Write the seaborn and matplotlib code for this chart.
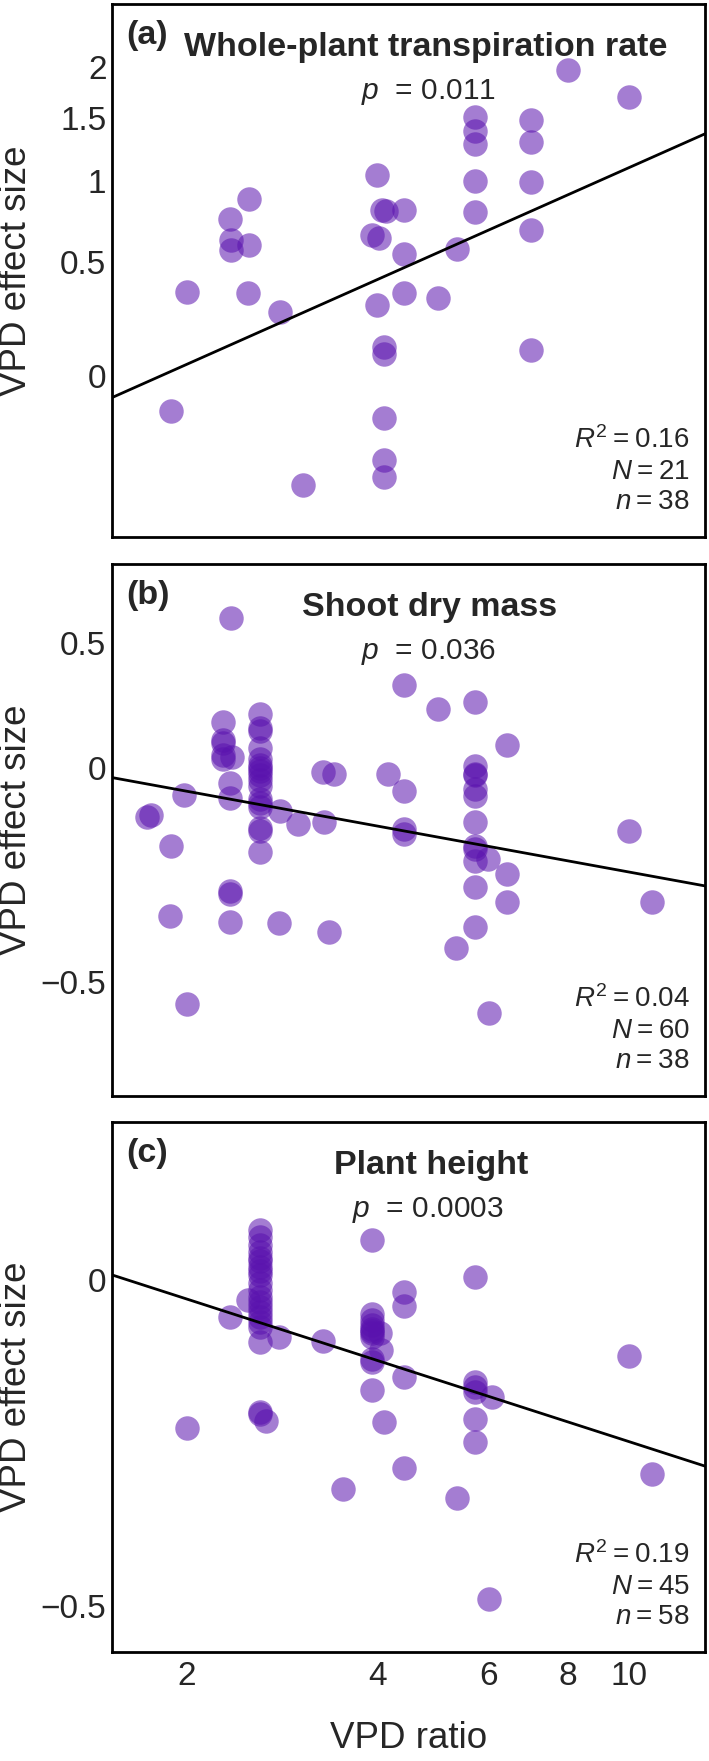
import numpy as np
import matplotlib
matplotlib.use("Agg")
import matplotlib.pyplot as plt
from matplotlib.ticker import NullLocator
import seaborn as sns

# --- DATA (y = ln response ratio, x = VPD ratio) ---
# (a) whole-plant transpiration rate
vpd_a = [1.89, 2.00, 2.34, 2.35, 2.35, 2.51, 2.51, 2.50, 2.81, 3.05,
         3.93, 4.02, 4.00, 4.00, 4.07, 4.13, 4.10, 4.10, 4.10, 4.10,
         4.10, 4.41, 4.41, 4.41, 4.99, 5.35, 5.70, 5.70, 5.70, 5.70,
         5.70, 6.99, 6.99, 6.99, 6.99, 6.99, 8.00, 10.0]
eff_a = [-0.124, 0.301, 0.559, 0.485, 0.449, 0.628, 0.465, 0.297, 0.227, -0.385,
         0.503, 0.492, 0.714, 0.255, 0.591, 0.587, 0.106, 0.080, -0.146, -0.296,
         -0.355, 0.591, 0.435, 0.297, 0.278, 0.453, 0.919, 0.871, 0.824, 0.693,
         0.583, 0.909, 0.832, 0.690, 0.518, 0.093, 1.087, 0.992]

# (b) shoot dry mass
vpd_b = [2.35, 1.73, 1.76, 1.98, 1.89, 1.88, 2.00,
         2.28, 2.28, 2.28, 2.28, 2.28, 2.36, 2.34, 2.34, 2.34, 2.34, 2.34,
         2.61, 2.61, 2.61, 2.61, 2.61, 2.61, 2.61, 2.61, 2.61, 2.61,
         2.61, 2.61, 2.61, 2.61, 2.61, 2.61, 2.61,
         2.81, 3.00, 3.28, 3.42, 3.29, 3.35, 2.80, 4.16, 4.41, 4.41,
         4.41, 4.41, 4.99, 5.70,
         5.70, 5.70, 5.70, 5.70, 5.70, 5.70, 5.70, 5.70, 5.70, 5.70, 5.70,
         6.41, 10.0, 10.86, 5.98, 6.00, 6.41, 6.41, 5.33]
eff_b = [0.487, -0.161, -0.154, -0.087, -0.254, -0.481, -0.767,
         0.148, 0.090, 0.080, 0.040, 0.030, 0.035, -0.049, -0.097, -0.400, -0.410, -0.501,
         0.175, 0.128, 0.118, 0.064, 0.030, 0.010, 0.000, -0.012, -0.025, -0.040,
         -0.060, -0.100, -0.115, -0.128, -0.195, -0.205, -0.272,
         -0.140, -0.181, -0.015, -0.020, -0.175, -0.533, -0.504, -0.020, -0.076, -0.198,
         -0.216, 0.268, 0.189, 0.212,
         0.006, -0.021, -0.025, -0.070, -0.093, -0.175, -0.255, -0.265, -0.303, -0.385, -0.515,
         0.073, -0.204, -0.434, -0.295, -0.796, -0.346, -0.434, -0.583]

# (c) plant height
vpd_c = [2.00, 2.34, 2.50, 2.80, 3.28,
         2.61, 2.61, 2.61, 2.61, 2.61, 2.61, 2.61, 2.61, 2.61, 2.61, 2.61,
         2.61, 2.61, 2.61, 2.61, 2.61, 2.61, 2.61, 2.61, 2.61, 2.61, 2.67,
         3.53, 3.92,
         3.92, 3.92, 3.92, 3.92, 3.92, 3.92, 3.92, 3.92, 3.92, 3.92,
         4.04, 4.06, 4.10, 4.41, 4.41, 4.41, 4.41, 5.35,
         5.70, 5.70, 5.70, 5.70, 5.70, 5.70, 6.06, 6.00, 10.0, 10.86]
eff_c = [-0.314, -0.078, -0.042, -0.122, -0.129,
         0.107, 0.093, 0.075, 0.061, 0.047, 0.040, 0.029, 0.020, 0.011, -0.007, -0.020,
         -0.035, -0.046, -0.057, -0.067, -0.078, -0.090, -0.099, -0.131, -0.280, -0.286, -0.301,
         -0.444, 0.086,
         -0.071, -0.085, -0.095, -0.103, -0.108, -0.113, -0.120, -0.167, -0.174, -0.234,
         -0.113, -0.149, -0.302, -0.025, -0.056, -0.206, -0.401, -0.465,
         0.007, -0.216, -0.227, -0.238, -0.295, -0.344, -0.248, -0.680, -0.161, -0.412]

# fitted meta-regression lines: (intercept, slope) on ln(VPD ratio)
fit_a = (-0.258, 0.434)
fit_b = (0.037, -0.163)
fit_c = (0.091, -0.189)

panels = [
    dict(x=vpd_a, y=eff_a, fit=fit_a, tag="(a)", title="Whole-plant transpiration rate",
         p="0.011", r2="0.16", N="21", n="38",
         ticks=[0, 0.5, 1, 1.5, 2], ticklabels=["0", "0.5", "1", "1.5", "2"],
         ylim=(-0.569, 1.320), title_x=0.529),
    dict(x=vpd_b, y=eff_b, fit=fit_b, tag="(b)", title="Shoot dry mass",
         p="0.036", r2="0.04", N="60", n="38",
         ticks=[-0.5, 0, 0.5], ticklabels=["\u22120.5", "0", "0.5"],
         ylim=(-1.065, 0.660), title_x=0.536),
    dict(x=vpd_c, y=eff_c, fit=fit_c, tag="(c)", title="Plant height",
         p="0.0003", r2="0.19", N="45", n="58",
         ticks=[-0.5, 0], ticklabels=["\u22120.5", "0"],
         ylim=(-0.792, 0.336), title_x=0.538),
]

xticks = [2, 4, 6, 8, 10]
xlim = (1.525, 13.16)

# --- STYLE ---
sns.set_theme(style="white")
plt.rcParams["font.family"] = ["Liberation Sans", "DejaVu Sans"]
plt.rcParams["mathtext.fontset"] = "custom"
plt.rcParams["mathtext.rm"] = "Liberation Sans"
plt.rcParams["mathtext.it"] = "Liberation Sans:italic"

dot_color = "#5a12ae"
fig = plt.figure(figsize=(7.09, 17.61), dpi=100)

# axes rectangles in figure fraction
rects = [
    [0.158, 0.6951, 0.8364, 0.3025],
    [0.158, 0.3775, 0.8364, 0.3021],
    [0.158, 0.0619, 0.8364, 0.3007],
]

for i, (pan, rect) in enumerate(zip(panels, rects)):
    ax = fig.add_axes(rect)
    sns.scatterplot(x=pan["x"], y=pan["y"], ax=ax, s=310, color=dot_color,
                    alpha=0.55, linewidth=0, zorder=2)
    ax.set_xscale("log")
    ax.set_xlim(*xlim)
    ax.set_ylim(*pan["ylim"])

    # regression line across the axis
    xs = np.array(xlim)
    b0, b1 = pan["fit"]
    ax.plot(xs, b0 + b1 * np.log(xs), color="black", lw=2.0, zorder=3)

    ax.xaxis.set_minor_locator(NullLocator())
    ax.yaxis.set_minor_locator(NullLocator())
    ax.set_xticks(xticks)
    ax.set_yticks(np.log1p(pan["ticks"]), labels=pan["ticklabels"])
    if i == 2:
        ax.set_xticklabels([str(t) for t in xticks])
        ax.set_xlabel("VPD ratio", fontsize=26.5, labelpad=21)
    else:
        ax.set_xticklabels([])
    ax.tick_params(axis="both", direction="in", length=8, width=1.6,
                   labelsize=24, color="black")
    ax.tick_params(axis="x", pad=6.5)
    ax.tick_params(axis="y", pad=4)
    for sp in ax.spines.values():
        sp.set_visible(True)
        sp.set_color("black")
        sp.set_linewidth(2.0)

    ax.set_ylabel("VPD effect size", fontsize=26.5)
    ax.yaxis.set_label_coords(-0.132, 0.5)

    # panel tag, title, p-value
    ax.annotate(pan["tag"], xy=(0, 1), xycoords="axes fraction",
                xytext=(10.5, -28.5), textcoords="offset points",
                ha="left", va="baseline", fontsize=24.5, fontweight="bold")
    ax.annotate(pan["title"], xy=(pan["title_x"], 1), xycoords="axes fraction",
                xytext=(0, -37), textcoords="offset points",
                ha="center", va="baseline", fontsize=24.5, fontweight="bold")
    ax.annotate(r"$\it{p}$  = " + pan["p"], xy=(0.533, 1), xycoords="axes fraction",
                xytext=(0, -68), textcoords="offset points",
                ha="center", va="baseline", fontsize=21.5)

    # fit statistics, bottom right
    stats = [r"$\it{R}^{2}$" + "\u2009=\u2009" + pan["r2"],
             r"$\it{N}$" + "\u2009=\u2009" + pan["N"],
             r"$\it{n}$" + "\u2009=\u2009" + pan["n"]]
    for txt, off in zip(stats, [64, 42, 20]):
        ax.annotate(txt, xy=(1, 0), xycoords="axes fraction",
                    xytext=(-11, off), textcoords="offset points",
                    ha="right", va="baseline", fontsize=20)

fig.savefig("out.png", dpi=100)
